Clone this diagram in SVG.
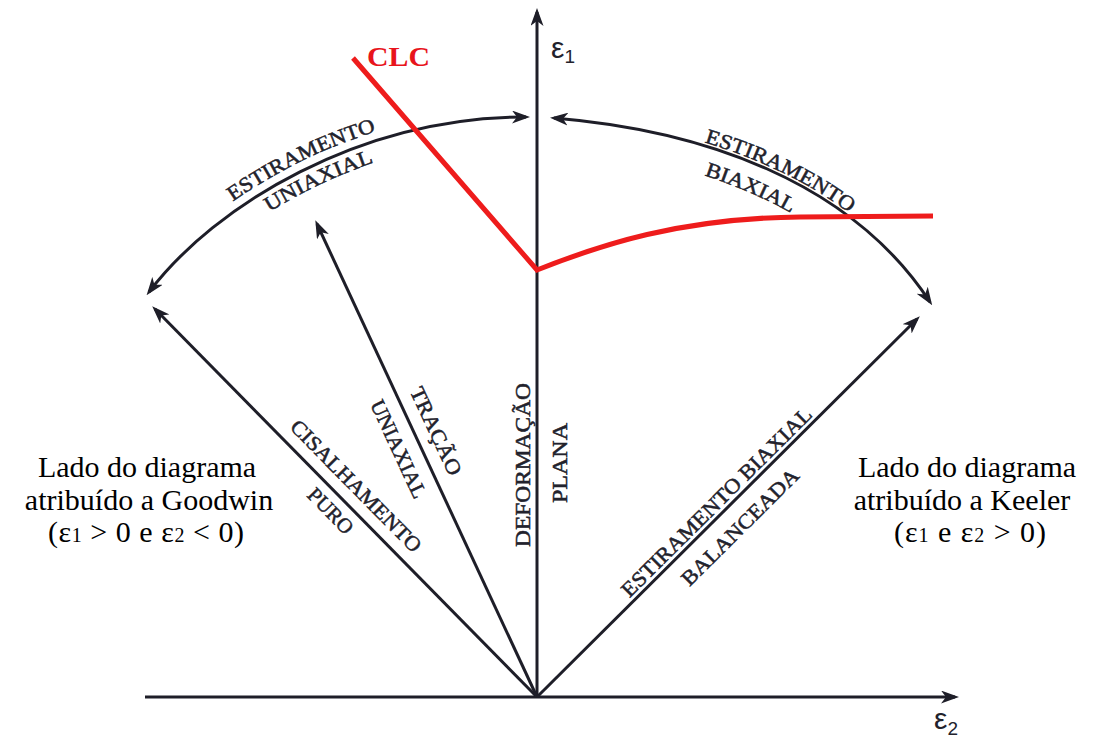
<svg xmlns="http://www.w3.org/2000/svg" width="1093" height="742" viewBox="0 0 1093 742">
<defs>
<marker id="ah" viewBox="0 0 18 13" refX="14" refY="6.5" markerWidth="18" markerHeight="13" markerUnits="userSpaceOnUse" orient="auto-start-reverse"><path d="M0,0 L18,6.5 L0,13 L5,6.5 Z" fill="#1e1e28"/></marker>
<path id="pL1" d="M145,284 C211,197 356,109 522,109"/>
<path id="pL2" d="M158,310 C224,223 369,135 535,135"/>
<path id="pR1" d="M555,115 C701,127 851,177 931,299"/>
<path id="pR2" d="M542,144 C688,156 838,206 918,328"/>
</defs>
<style>
.ln{fill:none;stroke:#1e1e28;stroke-width:3}
.lb{font-family:"Liberation Serif","Times New Roman",serif;font-size:21px;fill:#22222c;stroke:#22222c;stroke-width:0.5}
.side{font-family:"Liberation Serif","Times New Roman",serif;font-size:30px;fill:#000;text-anchor:middle}
.eps{font-family:"Liberation Sans",Arial,sans-serif;fill:#22222c}
.clc{fill:none;stroke:#ee1c1c;stroke-width:5}
</style>
<rect width="1093" height="742" fill="#fff"/>
<g id="connectors">
<path class="ln" d="M145,697 L955,697" stroke-width="3.5" marker-end="url(#ah)"/>
<path class="ln" d="M537,697 L537,12" marker-end="url(#ah)"/>
<path class="ln" d="M537,697 L155,309" marker-end="url(#ah)"/>
<path class="ln" d="M537,697 L317,224" marker-end="url(#ah)"/>
<path class="ln" d="M537,697 L917,319" marker-end="url(#ah)"/>
<path class="ln" d="M149,292 C215,205 360,117 526,117" marker-start="url(#ah)" marker-end="url(#ah)"/>
<path class="ln" d="M554,118 C700,130 850,180 930,302" marker-start="url(#ah)" marker-end="url(#ah)"/>
</g>
<g id="clc">
<path class="clc" d="M353,58 L537,270 C600,245 680,218 800,217 L933,216"/>
<text x="367" y="66" font-family="'Liberation Serif','Times New Roman',serif" font-weight="bold" font-size="28" fill="#e8141c" textLength="63" lengthAdjust="spacingAndGlyphs">CLC</text>
</g>
<g id="axis-labels" class="eps">
<text x="551" y="58" font-size="30">ε<tspan font-size="19" dy="5">1</tspan></text>
<text x="934" y="729" font-size="30">ε<tspan font-size="19" dy="6">2</tspan></text>
</g>
<g id="arc-labels" class="lb">
<text><textPath href="#pL1" startOffset="201" text-anchor="middle" textLength="160" lengthAdjust="spacingAndGlyphs">ESTIRAMENTO</textPath></text>
<text><textPath href="#pL2" startOffset="207" text-anchor="middle" textLength="116" lengthAdjust="spacingAndGlyphs">UNIAXIAL</textPath></text>
<text><textPath href="#pR1" startOffset="233" text-anchor="middle" textLength="162" lengthAdjust="spacingAndGlyphs">ESTIRAMENTO</textPath></text>
<text><textPath href="#pR2" startOffset="213" text-anchor="middle" textLength="95" lengthAdjust="spacingAndGlyphs">BIAXIAL</textPath></text>
</g>
<g id="ray-labels" class="lb" text-anchor="middle">
<text transform="translate(356,486) rotate(45.4)" y="7" textLength="177" lengthAdjust="spacingAndGlyphs">CISALHAMENTO</text>
<text transform="translate(330.6,511) rotate(45.4)" y="7" textLength="56" lengthAdjust="spacingAndGlyphs">PURO</text>
<text transform="translate(436,431) rotate(65)" y="7" textLength="95" lengthAdjust="spacingAndGlyphs">TRAÇÃO</text>
<text transform="translate(398.5,449) rotate(65)" y="7" textLength="106" lengthAdjust="spacingAndGlyphs">UNIAXIAL</text>
<text transform="translate(523,465) rotate(-90)" y="7" textLength="164" lengthAdjust="spacingAndGlyphs">DEFORMAÇÃO</text>
<text transform="translate(560,463) rotate(-90)" y="7" textLength="80" lengthAdjust="spacingAndGlyphs">PLANA</text>
<text transform="translate(716.5,502) rotate(-44.8)" y="7" textLength="259" lengthAdjust="spacingAndGlyphs">ESTIRAMENTO BIAXIAL</text>
<text transform="translate(740,527) rotate(-44.8)" y="7" textLength="156" lengthAdjust="spacingAndGlyphs">BALANCEADA</text>
</g>
<g id="goodwin" class="side">
<text x="147" y="477">Lado do diagrama</text>
<text x="149" y="510">atribuído a Goodwin</text>
<text x="146" y="542" textLength="196">(ε<tspan font-size="20">1</tspan> &gt; 0 e ε<tspan font-size="20">2</tspan> &lt; 0)</text>
</g>
<g id="keeler" class="side">
<text x="967" y="477">Lado do diagrama</text>
<text x="962" y="510">atribuído a Keeler</text>
<text x="970" y="542" textLength="152">(ε<tspan font-size="20">1</tspan> e ε<tspan font-size="20">2</tspan> &gt; 0)</text>
</g>
</svg>
